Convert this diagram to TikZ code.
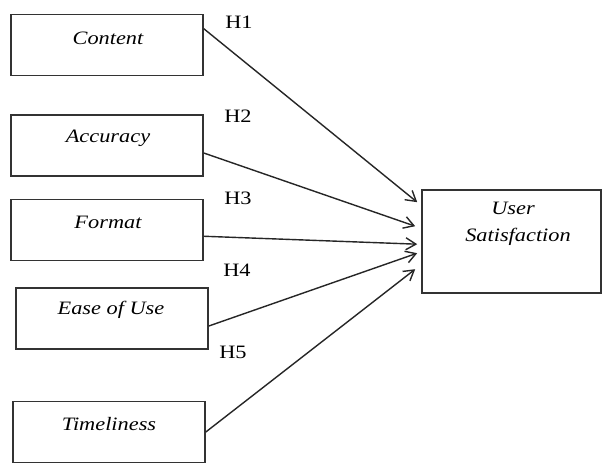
\documentclass[tikz,border=0pt]{standalone}
\usepackage{fontspec}
\setmainfont{Liberation Serif}
\usetikzlibrary{arrows.meta,calc}
\newcommand{\wide}[1]{\scalebox{1.18}[1]{#1}}
\begin{document}
\begin{tikzpicture}[x=1bp,y=-1bp,
  box/.style={draw=black!80,line width=1.6bp,minimum width=192bp,minimum height=61bp,inner sep=0pt},
  lbl/.style={font=\fontsize{19}{21}\selectfont\itshape,inner sep=0pt,text=black},
  hyp/.style={font=\fontsize{19}{21}\selectfont,inner sep=0pt,text=black},
  arr/.style={draw=black!85,line width=1.4bp,-{Straight Barb[length=10bp,width=12bp,line width=1.4bp]}}]
\useasboundingbox (0,0) rectangle (603,463);
\fill[white] (0,0) rectangle (603,463);
% boxes
\node[box] (content) at (107,45) {};
\node[box] (accuracy) at (107,145.5) {};
\node[box] (format) at (107,230) {};
\node[box] (ease) at (112,318.5) {};
\node[box] (time) at (109,432) {};
\node[box,minimum width=179bp,minimum height=103bp] (us) at (511.5,241.5) {};
% texts
\node[lbl] (tcontent) at (108,38) {\wide{Content}};
\node[lbl] (taccuracy) at (108,138) {\wide{Accuracy}};
\node[lbl] (tformat) at (108,222) {\wide{Format}};
\node[lbl] (tease) at (111,310) {\wide{Ease of Use}};
\node[lbl] (ttime) at (109,424) {\wide{Timeliness}};
\node[lbl] (tus1) at (513,208) {\wide{User}};
\node[lbl] (tus2) at (518,237) {\wide{Satisfaction}};
% hypothesis labels
\node[hyp] (h1) at (239,22) {\wide{H1}};
\node[hyp] (h2) at (238,116) {\wide{H2}};
\node[hyp] (h3) at (238,198) {\wide{H3}};
\node[hyp] (h4) at (237,270) {\wide{H4}};
\node[hyp] (h5) at (233,352) {\wide{H5}};
% end coordinates
\coordinate (e1) at ($(us.north west)+(-4,13)$);
\coordinate (e2) at ($(us.north west)+(-6,37)$);
\coordinate (e3) at ($(us.north west)+(-4,55)$);
\coordinate (e4) at ($(us.north west)+(-4,64)$);
\coordinate (e5) at ($(us.north west)+(-6,80)$);
% arrows
\draw[arr] ($(content.north east)!0.24!(content.south east)$) -- (e1);
\draw[arr] ($(accuracy.north east)!0.62!(accuracy.south east)$) -- (e2);
\draw[arr] ($(format.north east)!0.6!(format.south east)$) -- (e3);
\draw[arr] ($(ease.north east)!0.62!(ease.south east)$) -- (e4);
\draw[arr] (time.east) -- (e5);
\end{tikzpicture}
\end{document}
